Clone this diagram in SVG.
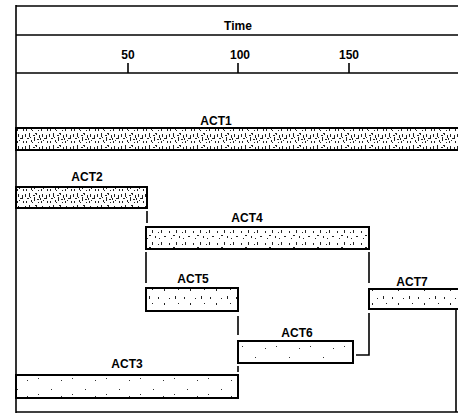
<svg xmlns="http://www.w3.org/2000/svg" width="458" height="415" viewBox="0 0 458 415">
<style>
.frame{stroke:#000;stroke-width:1.6;fill:none}
.box{stroke:#000;stroke-width:2}
.conn{stroke:#000;stroke-width:1.6;fill:none}
.lbl{font-family:"Liberation Sans",Arial,sans-serif;font-size:12px;font-weight:bold;text-anchor:middle;fill:#000}
.ax{font-family:"Liberation Sans",Arial,sans-serif;font-size:12px;font-weight:bold;text-anchor:middle;fill:#000}
</style>
<defs>
<pattern id="dense" width="24" height="12" patternUnits="userSpaceOnUse">
<rect width="24" height="12" fill="#fff"/>
<g fill="#222">
<rect x="1" y="2" width="1" height="3"/><rect x="3" y="6" width="2" height="1"/><rect x="5" y="1" width="1" height="4"/>
<rect x="7" y="8" width="1" height="2"/><rect x="9" y="3" width="2" height="1"/><rect x="10" y="5" width="1" height="4"/>
<rect x="12" y="1" width="1" height="2"/><rect x="13" y="7" width="2" height="1"/><rect x="15" y="3" width="1" height="3"/>
<rect x="17" y="9" width="1" height="2"/><rect x="18" y="2" width="1" height="3"/><rect x="20" y="6" width="2" height="1"/>
<rect x="22" y="3" width="1" height="4"/><rect x="2" y="9" width="1" height="2"/><rect x="8" y="10" width="1" height="1"/>
<rect x="14" y="10" width="1" height="1"/><rect x="19" y="8" width="1" height="1"/><rect x="6" y="5" width="1" height="1"/>
<rect x="11" y="1" width="1" height="1"/><rect x="16" y="6" width="1" height="2"/><rect x="23" y="9" width="1" height="2"/>
</g>
</pattern>
<pattern id="medium" width="24" height="12" patternUnits="userSpaceOnUse">
<rect width="24" height="12" fill="#fff"/>
<g fill="#222">
<rect x="1" y="3" width="1" height="2"/><rect x="5" y="7" width="2" height="1"/><rect x="8" y="2" width="1" height="3"/>
<rect x="11" y="8" width="1" height="2"/><rect x="14" y="4" width="1" height="1"/><rect x="17" y="2" width="1" height="3"/>
<rect x="20" y="8" width="2" height="1"/><rect x="3" y="10" width="1" height="1"/><rect x="15" y="10" width="1" height="1"/>
</g>
</pattern>
<pattern id="light" width="26" height="14" patternUnits="userSpaceOnUse">
<rect width="26" height="14" fill="#fff"/>
<g fill="#222">
<rect x="2" y="3" width="1" height="2"/><rect x="8" y="9" width="1" height="2"/><rect x="13" y="4" width="1" height="1"/>
<rect x="19" y="2" width="1" height="3"/><rect x="22" y="9" width="1" height="1"/>
</g>
</pattern>
<pattern id="sparse" width="34" height="16" patternUnits="userSpaceOnUse">
<rect width="34" height="16" fill="#fff"/>
<g fill="#333">
<rect x="4" y="10" width="1" height="1"/><rect x="17" y="5" width="1" height="1"/><rect x="27" y="12" width="1" height="1"/>
</g>
</pattern>
</defs>

<g id="timeline-frame">
<line class="frame" x1="16" y1="5" x2="16" y2="413"/>
<line class="frame" x1="16" y1="6" x2="458" y2="6"/>
<line class="frame" x1="16" y1="35" x2="458" y2="35"/>
<line class="frame" x1="16" y1="73" x2="458" y2="73"/>
<line class="frame" x1="16" y1="412" x2="458" y2="412"/>
<line class="frame" x1="456" y1="310" x2="456" y2="412"/>
<text class="ax" x="238" y="30">Time</text>
<line class="frame" x1="128" y1="63" x2="128" y2="73"/>
<line class="frame" x1="238" y1="63" x2="238" y2="73"/>
<line class="frame" x1="349" y1="63" x2="349" y2="73"/>
<text class="ax" x="128" y="59">50</text>
<text class="ax" x="240" y="59">100</text>
<text class="ax" x="349" y="59">150</text>
</g>

<g id="connectors">
<line class="conn" x1="147" y1="211" x2="147" y2="223"/>
<line class="conn" x1="146" y1="252" x2="146" y2="283"/>
<line class="conn" x1="369" y1="252" x2="369" y2="283"/>
<line class="conn" x1="238" y1="316" x2="238" y2="335"/>
<line class="conn" x1="238" y1="366" x2="238" y2="372"/>
<path class="conn" d="M356 355 H369 V313"/>
</g>

<g id="ACT1">
<rect class="box" x="16" y="128" width="452" height="22" fill="url(#dense)"/>
<text class="lbl" x="216" y="125">ACT1</text>
</g>
<g id="ACT2">
<rect class="box" x="16" y="187" width="131" height="21" fill="url(#dense)"/>
<text class="lbl" x="87" y="181">ACT2</text>
</g>
<g id="ACT4">
<rect class="box" x="146" y="227" width="223" height="22" fill="url(#medium)"/>
<text class="lbl" x="247" y="222">ACT4</text>
</g>
<g id="ACT5">
<rect class="box" x="146" y="288" width="92" height="23" fill="url(#light)"/>
<text class="lbl" x="193" y="283">ACT5</text>
</g>
<g id="ACT7">
<rect class="box" x="369" y="289" width="100" height="20" fill="url(#light)"/>
<text class="lbl" x="412" y="286">ACT7</text>
</g>
<g id="ACT6">
<rect class="box" x="238" y="341" width="115" height="22" fill="url(#sparse)"/>
<text class="lbl" x="297" y="337">ACT6</text>
</g>
<g id="ACT3">
<rect class="box" x="16" y="375" width="222" height="23" fill="url(#sparse)"/>
<text class="lbl" x="127" y="368">ACT3</text>
</g>
</svg>
